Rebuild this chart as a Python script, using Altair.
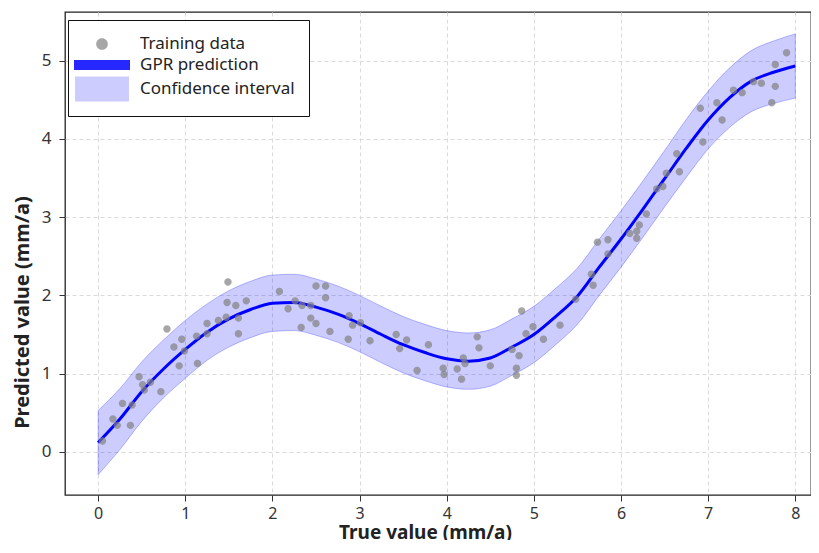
import altair as alt
import pandas as pd

# ---------------- data ----------------
train_x = [0.05, 0.17, 0.22, 0.28, 0.39, 0.37, 0.47, 0.51, 0.53, 0.60, 0.72, 0.79,
           0.87, 0.96, 0.99, 0.93, 1.14, 1.13, 1.25, 1.25, 1.38, 1.47, 1.48, 1.49,
           1.58, 1.61, 1.61, 1.70, 2.08, 2.18, 2.26, 2.33, 2.34, 2.44, 2.44, 2.50,
           2.50, 2.61, 2.61, 2.66, 2.88, 2.92, 3.01, 2.87, 3.12, 3.42, 3.46, 3.54,
           3.66, 3.79, 3.96, 3.97, 4.12, 4.17, 4.19, 4.21, 4.35, 4.37, 4.50, 4.75,
           4.80, 4.80, 4.83, 4.86, 4.91, 4.99, 5.11, 5.30, 5.48, 5.66, 5.68, 5.73,
           5.85, 5.85, 6.10, 6.18, 6.18, 6.21, 6.29, 6.41, 6.48, 6.52, 6.64, 6.67,
           6.91, 6.94, 7.10, 7.16, 7.29, 7.39, 7.52, 7.61, 7.77, 7.77, 7.73, 7.90]
train_y = [0.14, 0.42, 0.34, 0.62, 0.60, 0.34, 0.96, 0.86, 0.79, 0.89, 0.77, 1.57,
           1.34, 1.44, 1.29, 1.10, 1.13, 1.48, 1.64, 1.51, 1.68, 1.72, 1.91, 2.17,
           1.87, 1.71, 1.51, 1.93, 2.05, 1.83, 1.93, 1.59, 1.87, 1.87, 1.71, 2.12,
           1.64, 2.12, 1.97, 1.54, 1.74, 1.62, 1.65, 1.44, 1.42, 1.50, 1.32, 1.43,
           1.04, 1.37, 1.07, 0.99, 1.06, 0.93, 1.20, 1.13, 1.47, 1.33, 1.10, 1.31,
           1.07, 0.98, 1.23, 1.80, 1.51, 1.60, 1.44, 1.62, 1.95, 2.27, 2.13, 2.68,
           2.71, 2.53, 2.79, 2.82, 2.73, 2.90, 3.04, 3.36, 3.39, 3.56, 3.81, 3.58,
           4.39, 3.96, 4.46, 4.24, 4.62, 4.59, 4.73, 4.71, 4.95, 4.67, 4.46, 5.10]

curve_x = [0.0, 0.25, 0.5, 0.75, 1.0, 1.25, 1.5, 1.75, 2.0, 2.25, 2.5, 2.75, 3.0,
           3.25, 3.5, 3.75, 4.0, 4.25, 4.5, 4.75, 5.0, 5.25, 5.5, 5.75, 6.0, 6.25,
           6.5, 6.75, 7.0, 7.25, 7.5, 7.75, 8.0]
curve_mean = [0.12, 0.42, 0.77, 1.06, 1.31, 1.53, 1.70, 1.82, 1.90, 1.91, 1.85,
              1.76, 1.64, 1.50, 1.37, 1.27, 1.19, 1.16, 1.20, 1.34, 1.50, 1.73,
              1.99, 2.36, 2.72, 3.10, 3.49, 3.88, 4.24, 4.53, 4.74, 4.85, 4.93]
curve_half = [0.41, 0.39, 0.38, 0.37, 0.37, 0.36, 0.36, 0.36, 0.36, 0.36, 0.36,
              0.36, 0.36, 0.36, 0.36, 0.36, 0.36, 0.36, 0.36, 0.36, 0.36, 0.36,
              0.36, 0.36, 0.36, 0.36, 0.36, 0.37, 0.37, 0.38, 0.39, 0.40, 0.41]

series_names = ["Training data", "GPR prediction", "Confidence interval"]
series_colors = ["#808080", "#0000ff", "#ccccff"]
series_opacity = [0.7, 1.0, 1.0]
x_ticks = [0, 1, 2, 3, 4, 5, 6, 7, 8]
y_ticks = [0, 1, 2, 3, 4, 5]

points = pd.DataFrame({"x": train_x, "y": train_y, "series": "Training data"})
curve = pd.DataFrame({
    "x": curve_x,
    "mean": curve_mean,
    "lo": [m - h for m, h in zip(curve_mean, curve_half)],
    "hi": [m + h for m, h in zip(curve_mean, curve_half)],
})

FONT = "Noto Sans"
xscale = alt.Scale(domain=[-0.38, 8.18], nice=False, zero=False)
yscale = alt.Scale(domain=[-0.55, 5.62], nice=False, zero=False)

xaxis = alt.Axis(values=x_ticks, format="d", labelPadding=4, labelFontSize=16,
                 title="True value (mm/a)", titleX=360, titleY=28, titleFontSize=19,
                 titleBaseline="top", titleAlign="center")
yaxis = alt.Axis(values=y_ticks, format="d", labelPadding=8, labelFontSize=17,
                 title="Predicted value (mm/a)", titleX=-43, titleFontSize=20,
                 titleY=300, titleBaseline="middle", titleAlign="center", titleAngle=270)

legend = alt.Legend(
    title=None, orient="none", legendX=3, legendY=8,
    strokeColor="#111", fillColor="white", padding=14, cornerRadius=0,
    symbolSize=400, symbolOffset=10, labelOffset=28, symbolStrokeWidth=0,
    labelFontSize=17, labelFont=FONT, labelColor="#222", rowPadding=3,
)

circle_path = "M-0.585,0A0.585,0.585 0 1,0 0.585,0A0.585,0.585 0 1,0 -0.585,0Z"
bar_path = "M-2.8,-0.5H2.8V0.5H-2.8Z"
rect_path = "M-2.7,-1.25H2.7V1.25H-2.7Z"

band = alt.Chart(curve).mark_area(
    interpolate="monotone", fill="#0000ff", fillOpacity=0.2,
    stroke="#0000ff", strokeOpacity=0.25, strokeWidth=1,
).encode(
    x=alt.X("x:Q", scale=xscale, axis=xaxis),
    y=alt.Y("lo:Q", scale=yscale, axis=yaxis),
    y2="hi:Q",
)

line = alt.Chart(curve).mark_line(
    interpolate="monotone", color="#0000ff", strokeWidth=3
).encode(x="x:Q", y="mean:Q")

pts = alt.Chart(points).mark_point(filled=True, size=160, strokeWidth=0).encode(
    x="x:Q",
    y="y:Q",
    color=alt.Color("series:N", scale=alt.Scale(domain=series_names, range=series_colors),
                    legend=legend),
    shape=alt.Shape("series:N", scale=alt.Scale(domain=series_names,
                                                range=[circle_path, bar_path, rect_path]),
                    legend=legend),
    opacity=alt.Opacity("series:N", scale=alt.Scale(domain=series_names, range=series_opacity),
                        legend=legend),
)

chart = alt.layer(band, line, pts).properties(
    width=746, height=483,
    autosize=alt.AutoSizeParams(type="none"),
    padding={"left": 57, "top": 4, "right": 0, "bottom": 45},
).configure_view(
    stroke="#222", strokeWidth=1.3
).configure_axis(
    domain=False,
    grid=True, gridColor="#dadada", gridDash=[4, 3], gridWidth=1,
    tickSize=6, tickColor="#333", tickWidth=1,
    labelFont=FONT, labelColor="#333",
    titleFont=FONT, titleFontWeight="bold", titleColor="#222",
)

chart.save("out.html", embed_options={"renderer": "svg", "actions": False})
